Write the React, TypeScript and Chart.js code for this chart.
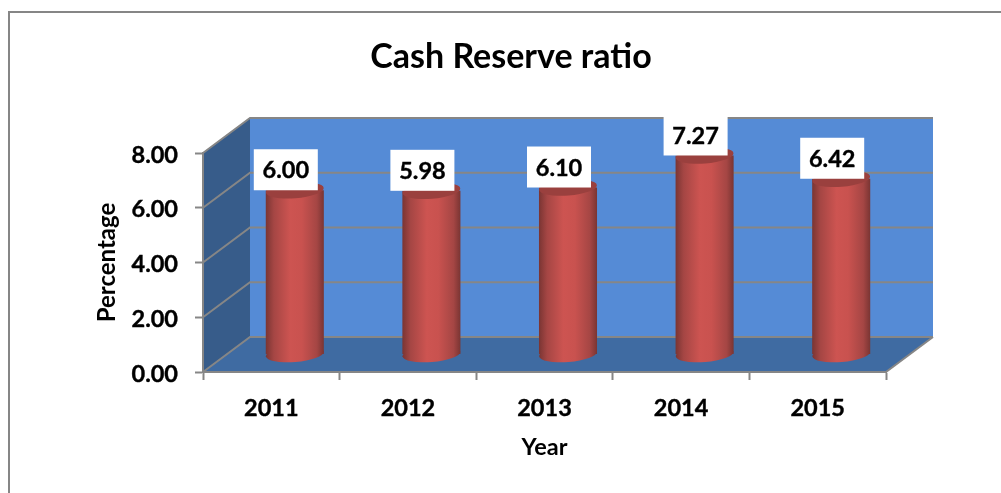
import React, { useEffect, useRef } from "react";
import { Chart, registerables } from "chart.js";

Chart.register(...registerables);

const years = ["2011", "2012", "2013", "2014", "2015"];
const cashReserve = [6.0, 5.98, 6.1, 7.27, 6.42];
const yTicks = [0, 2, 4, 6, 8];

// Depth of the box the chart stands in, and how far the cylinders sit inside it.
const DEPTH_X = 47;
const DEPTH_Y = -35;
const BAR_DX = 23.5;
const BAR_DY = -17.5;
const CAP_RX = 29;
const CAP_RY = 8;
const CAP_TILT = -0.08;

const AXIS_GREY = "#868686";
const BAR_RED = "#c9524f";
const FONT = "Lato, Carlito, sans-serif";
const LABEL_SIZE = 23.5;
const LABEL_STROKE = 0.4;

function barGradient(ctx: CanvasRenderingContext2D, cx: number) {
  const g = ctx.createLinearGradient(cx - CAP_RX, 0, cx + CAP_RX, 0);
  g.addColorStop(0, "#7a3533");
  g.addColorStop(0.14, "#a54644");
  g.addColorStop(0.42, "#cd5451");
  g.addColorStop(0.62, BAR_RED);
  g.addColorStop(0.88, "#a54644");
  g.addColorStop(1, "#7a3533");
  return g;
}

const boxPlugin = {
  id: "box3d",
  beforeDraw(chart: any) {
    const { ctx, chartArea: a, scales } = chart;
    ctx.save();

    // Outer frame of the chart object
    ctx.strokeStyle = AXIS_GREY;
    ctx.lineWidth = 2;
    ctx.beginPath();
    ctx.moveTo(9, 493);
    ctx.lineTo(9, 12);
    ctx.lineTo(1001, 12);
    ctx.stroke();

    // Back wall
    ctx.fillStyle = "#558bd6";
    ctx.fillRect(a.left + DEPTH_X, a.top + DEPTH_Y, a.right - a.left, a.bottom - a.top);

    // Side wall
    ctx.fillStyle = "#375c8a";
    ctx.beginPath();
    ctx.moveTo(a.left, a.top);
    ctx.lineTo(a.left + DEPTH_X, a.top + DEPTH_Y);
    ctx.lineTo(a.left + DEPTH_X, a.bottom + DEPTH_Y);
    ctx.lineTo(a.left, a.bottom);
    ctx.closePath();
    ctx.fill();

    // Floor
    ctx.fillStyle = "#3f6ba2";
    ctx.beginPath();
    ctx.moveTo(a.left, a.bottom);
    ctx.lineTo(a.left + DEPTH_X, a.bottom + DEPTH_Y);
    ctx.lineTo(a.right + DEPTH_X, a.bottom + DEPTH_Y);
    ctx.lineTo(a.right, a.bottom);
    ctx.closePath();
    ctx.fill();

    // Gridlines run along the side wall and across the back wall
    ctx.strokeStyle = AXIS_GREY;
    ctx.lineWidth = 2;
    for (const t of yTicks) {
      const y = scales.y.getPixelForValue(t);
      ctx.beginPath();
      ctx.moveTo(a.left, y);
      ctx.lineTo(a.left + DEPTH_X, y + DEPTH_Y);
      ctx.lineTo(a.right + DEPTH_X, y + DEPTH_Y);
      ctx.stroke();
    }
    ctx.beginPath();
    ctx.moveTo(a.right, a.bottom);
    ctx.lineTo(a.right + DEPTH_X, a.bottom + DEPTH_Y);
    ctx.stroke();
    ctx.restore();
  },
  afterLayout(chart: any) {
    // The heading is centred on the canvas-wide block, a little right of the plot's own middle
    chart.titleBlock.left += 46;
  },
  beforeDatasetDraw(chart: any, args: any) {
    const { ctx } = chart;
    ctx.save();
    ctx.translate(BAR_DX, BAR_DY);
    // Rounded foot of each cylinder, under the body the bar element paints
    for (const el of args.meta.data) {
      ctx.fillStyle = barGradient(ctx, el.x);
      ctx.beginPath();
      ctx.ellipse(el.x, el.base, CAP_RX, CAP_RY, CAP_TILT, 0, Math.PI * 2);
      ctx.fill();
    }
  },
  afterDatasetDraw(chart: any, args: any) {
    const { ctx } = chart;
    args.meta.data.forEach((el: any, i: number) => {
      // Top face of the cylinder
      ctx.fillStyle = "#9a403e";
      ctx.beginPath();
      ctx.ellipse(el.x, el.y, CAP_RX, CAP_RY, CAP_TILT, 0, Math.PI * 2);
      ctx.fill();

      // Value label on its white plate
      const plateW = 64;
      const plateH = 41;
      const cx = el.x - 9;
      const bottom = el.y;
      ctx.fillStyle = "#ffffff";
      ctx.fillRect(cx - plateW / 2, bottom - plateH, plateW, plateH);
      ctx.fillStyle = "#000000";
      ctx.strokeStyle = "#000000";
      ctx.lineWidth = LABEL_STROKE;
      ctx.font = `bold ${LABEL_SIZE}px ${FONT}`;
      ctx.textAlign = "center";
      ctx.textBaseline = "middle";
      const text = cashReserve[i].toFixed(2);
      ctx.fillText(text, cx, bottom - plateH / 2 + 1);
      ctx.strokeText(text, cx, bottom - plateH / 2 + 1);
    });
    ctx.restore();
  },
};

export default function App() {
  const ref = useRef<HTMLCanvasElement>(null);

  useEffect(() => {
    document.body.style.margin = "0";
    const chart = new Chart(ref.current!, {
      type: "bar",
      data: {
        labels: years,
        datasets: [
          {
            label: "Cash Reserve ratio",
            data: cashReserve,
            barPercentage: 0.425,
            categoryPercentage: 1,
            backgroundColor: (c: any) => {
              const x = c.chart.scales.x.getPixelForValue(c.dataIndex);
              return Number.isFinite(x) ? barGradient(c.chart.ctx, x) : BAR_RED;
            },
            borderWidth: 0,
          },
        ],
      },
      options: {
        responsive: false,
        animation: false,
        layout: { padding: { left: 90, right: 115, top: 0, bottom: 0 } },
        plugins: {
          legend: { display: false },
          tooltip: { enabled: false },
          title: {
            display: true,
            text: "Cash Reserve ratio",
            color: "#000000",
            font: { family: FONT, size: 34, weight: "bold" },
            padding: { top: 37, bottom: 75.2 },
          },
        },
        scales: {
          x: {
            grid: { display: true, drawOnChartArea: false, drawTicks: true, tickLength: 8, tickColor: AXIS_GREY, tickWidth: 2, offset: true },
            border: { display: true, color: AXIS_GREY, width: 2 },
            ticks: {
              color: "#000000",
              textStrokeColor: "#000000",
              textStrokeWidth: LABEL_STROKE,
              font: { family: FONT, size: LABEL_SIZE, weight: "bold" },
              padding: 14,
              maxRotation: 0,
            },
            title: { display: true, text: "Year", color: "#000000", font: { family: FONT, size: LABEL_SIZE, weight: "bold" }, padding: { top: 12, bottom: 31 } },
            afterFit(scale: any) {
              scale.height = 121;
            },
          },
          y: {
            min: 0,
            max: 8,
            grid: { display: true, drawOnChartArea: false, drawTicks: true, tickLength: 8, tickColor: AXIS_GREY, tickWidth: 2 },
            border: { display: true, color: AXIS_GREY, width: 2 },
            ticks: {
              color: "#000000",
              textStrokeColor: "#000000",
              textStrokeWidth: LABEL_STROKE,
              font: { family: FONT, size: LABEL_SIZE, weight: "bold" },
              padding: 17,
              stepSize: 2,
              callback: (v: any) => Number(v).toFixed(2),
            },
            title: { display: true, text: "Percentage", color: "#000000", font: { family: FONT, size: 24, weight: "bold" }, padding: { top: 3, bottom: 0 } },
            afterFit(scale: any) {
              scale.width = 113;
              // Tick labels sit slightly below their tick marks
              if (!scale.__labelsLowered) {
                scale.__labelsLowered = true;
                const compute = scale._computeLabelItems;
                scale._computeLabelItems = function (area: any) {
                  return compute.call(this, area).map((item: any) => ({ ...item, textOffset: item.textOffset + 2 }));
                };
              }
            },
          },
        },
      },
      plugins: [boxPlugin],
    } as any);
    return () => chart.destroy();
  }, []);

  return <canvas ref={ref} width={1001} height={493} style={{ display: "block" }} />;
}
